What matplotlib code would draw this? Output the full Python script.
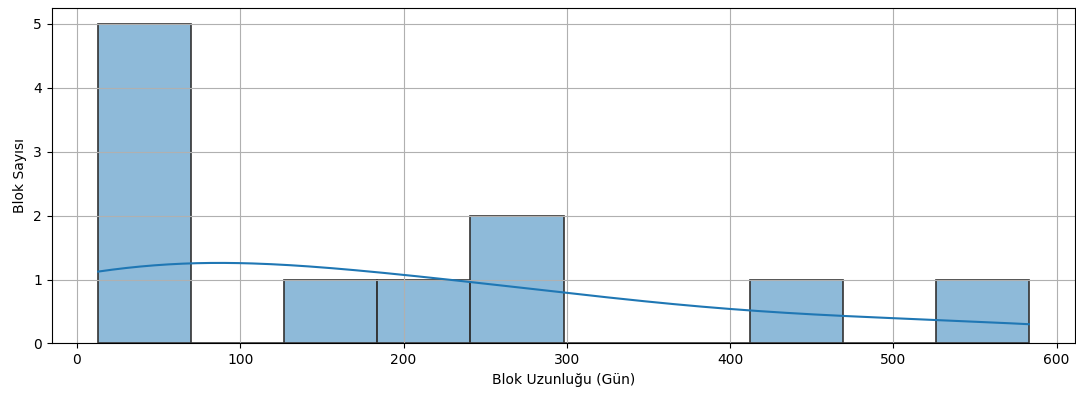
import matplotlib
matplotlib.use("Agg")
import matplotlib.pyplot as plt
import seaborn as sns

# block lengths (days)
blok_uzunlugu = [13, 20, 32, 45, 60, 150, 215, 255, 290, 440, 583]

fig = plt.figure(figsize=(10.76, 3.97), dpi=100)
ax = sns.histplot(blok_uzunlugu, bins=10, kde=True, edgecolor="#333333", linewidth=1.2)

plt.xlabel("Blok Uzunluğu (Gün)")
plt.ylabel("Blok Sayısı")
plt.grid(True)
plt.subplots_adjust(left=0.048, right=0.9995, top=0.98, bottom=0.135)

plt.savefig("out.png")
